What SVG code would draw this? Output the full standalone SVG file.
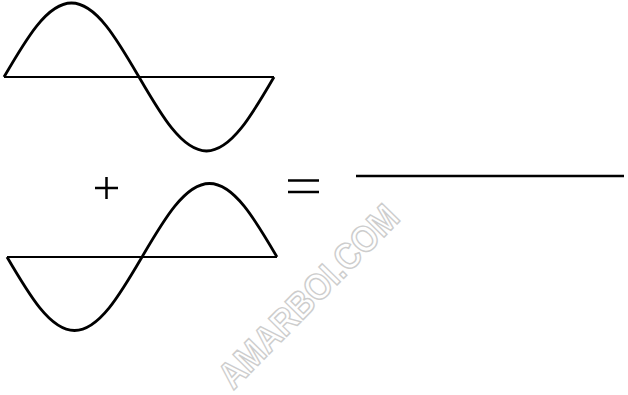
<svg xmlns="http://www.w3.org/2000/svg" width="628" height="395" viewBox="0 0 628 395">
<style>
.wave{fill:none;stroke:#000;stroke-width:2.8;stroke-linejoin:round}
.base{fill:none;stroke:#000;stroke-width:1.8}
.sym{fill:none;stroke:#000;stroke-width:2.5}
.wm{font-family:"Liberation Sans",Arial,sans-serif;font-weight:bold;font-size:37px;fill:none;stroke:#cdcdcd;stroke-width:1.5}
</style>
<rect width="628" height="395" fill="#fff"/>
<g id="wave-top">
<line class="base" x1="4" y1="77" x2="274" y2="77"/>
<path class="wave" d="M4,77 C26,39.1 47.07,3 71.5,3 S117,39.1 139,77 S182.07,151 206.5,151 S252,114.9 274,77"/>
</g>
<g id="wave-bottom">
<line class="base" x1="7" y1="257" x2="277" y2="257"/>
<path class="wave" d="M7,257 C29,294.65 50.07,330.5 74.5,330.5 S120,294.65 142,257 S185.07,183.5 209.5,183.5 S255,219.35 277,257"/>
</g>
<g id="plus">
<line class="sym" x1="95" y1="188" x2="118" y2="188"/>
<line class="sym" x1="106.5" y1="177" x2="106.5" y2="199"/>
</g>
<g id="equals">
<line class="sym" x1="288" y1="180.5" x2="319" y2="180.5"/>
<line class="sym" x1="288" y1="192" x2="319" y2="192"/>
</g>
<g id="result">
<line class="sym" x1="356" y1="176" x2="624" y2="176"/>
</g>
<g id="connectors"></g>
<text class="wm" x="0" y="13" text-anchor="middle" textLength="240" lengthAdjust="spacingAndGlyphs" transform="translate(308,296) rotate(-45.5)">AMARBOI.COM</text>
</svg>
